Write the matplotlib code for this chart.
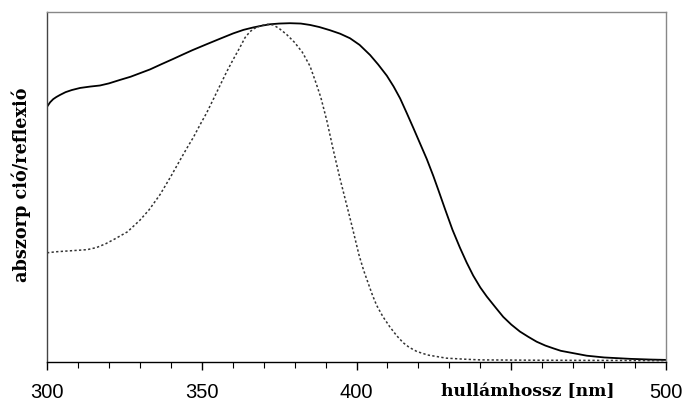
import matplotlib.pyplot as plt

# absorption / reflection spectra
wl_solid = [300, 301, 302, 303, 304.2, 306, 308, 310.7, 314, 317.1, 320, 323.6,
            327, 330, 333.3, 337, 340.8, 344, 347, 351.6, 356, 360.2, 363.5,
            366.7, 369.5, 372.1, 375, 378.5, 382, 385, 388, 391.4, 394.7, 397.9,
            401, 404.4, 407, 409.8, 412, 414.1, 416.2, 418.4, 420.5, 422.7,
            424.8, 426.5, 428.6, 431, 433.4, 435.6, 437.7, 440, 442.1, 445,
            447.4, 450, 452.8, 455.5, 458.2, 461, 463.6, 466, 469, 474.4, 480,
            488.4, 495, 500]
val_solid = [0.729, 0.742, 0.751, 0.757, 0.763, 0.771, 0.777, 0.783, 0.787, 0.790,
             0.796, 0.806, 0.815, 0.825, 0.836, 0.851, 0.866, 0.879, 0.891, 0.908,
             0.924, 0.939, 0.949, 0.956, 0.961, 0.965, 0.967, 0.968, 0.967, 0.963,
             0.957, 0.948, 0.938, 0.925, 0.906, 0.877, 0.850, 0.818, 0.787, 0.753,
             0.712, 0.668, 0.625, 0.580, 0.532, 0.490, 0.437, 0.378, 0.327, 0.284,
             0.247, 0.213, 0.187, 0.155, 0.129, 0.107, 0.087, 0.072, 0.058, 0.047,
             0.039, 0.032, 0.027, 0.018, 0.013, 0.009, 0.007, 0.006]

wl_dot = [300, 303, 308, 313, 316, 319, 322, 326, 330, 333, 336.5, 340, 343, 345,
          347.3, 349.4, 351.6, 353.7, 356, 358.1, 360.2, 362.4, 364, 365.6, 367,
          368.8, 371, 373.1, 375, 377.4, 380, 382.5, 385, 387, 388.5, 390.4,
          392.5, 394.5, 396.5, 398.5, 400.8, 402.3, 403.9, 405.2, 406.5, 408.5,
          410.8, 413, 415.1, 417, 419.5, 423, 429, 435, 440, 460, 500]
val_dot = [0.312, 0.315, 0.318, 0.321, 0.327, 0.338, 0.352, 0.372, 0.405, 0.435,
           0.478, 0.530, 0.577, 0.608, 0.642, 0.677, 0.712, 0.750, 0.792, 0.830,
           0.865, 0.900, 0.927, 0.944, 0.953, 0.960, 0.965, 0.963, 0.953, 0.936,
           0.913, 0.885, 0.845, 0.795, 0.755, 0.690, 0.606, 0.530, 0.460, 0.390,
           0.306, 0.262, 0.222, 0.190, 0.162, 0.130, 0.100, 0.075, 0.055, 0.042,
           0.030, 0.020, 0.011, 0.008, 0.006, 0.005, 0.004]

tick_pos = [300, 350, 400, 450, 500]
tick_lbl = ["300", "350", "400", "", "500"]

fig = plt.figure(figsize=(6.88, 4.05), dpi=100)
ax = fig.add_axes([47 / 688, 43 / 405, 619 / 688, 350 / 405])

ax.plot(wl_solid, val_solid, color="black", lw=1.3)
ax.plot(wl_dot, val_dot, color="#333333", lw=1.1, linestyle=(0, (1.5, 1.5)))

ax.set_xlim(300, 500)
ax.set_ylim(0, 1)
ax.set_yticks([])
ax.set_xticks(tick_pos)
ax.set_xticklabels(tick_lbl, fontsize=14.5, family="Liberation Sans")
ax.set_xticks(range(300, 501, 10), minor=True)
ax.tick_params(axis="x", which="major", length=6, width=1, pad=9)
ax.tick_params(axis="x", which="minor", length=4, width=0.8)

ax.spines["top"].set_color("#888888")
ax.spines["right"].set_color("#888888")
ax.spines["left"].set_color("#444444")
ax.spines["bottom"].set_color("black")
for s in ax.spines.values():
    s.set_linewidth(1.0)

ax.text(528 / 688, 1 - 392 / 405, "hullámhossz [nm]", transform=fig.transFigure,
        ha="center", va="center", fontsize=12.3, fontweight="bold",
        family="DejaVu Serif")
fig.text(21 / 688, 1 - 185 / 405, "abszorp ció/reflexió", rotation=90,
         ha="center", va="center", fontsize=12.7, fontweight="bold",
         family="DejaVu Serif")

fig.savefig("out.png", dpi=100)
